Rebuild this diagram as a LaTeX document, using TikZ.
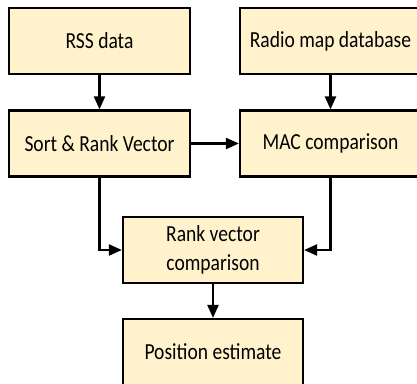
\documentclass[tikz,border=0pt]{standalone}
\usepackage{fontspec}
\setmainfont{Carlito}[FakeStretch=0.85]
\usetikzlibrary{arrows.meta}
\definecolor{boxfill}{HTML}{FFF2CC}
\tikzset{
  stage/.style={draw=black, line width=2.2pt, fill=boxfill, minimum width=181pt,
    minimum height=66pt, inner sep=2pt, align=center,
    font=\fontsize{23}{29}\selectfont},
  flow/.style={line width=2.2pt, -{Triangle[length=13pt,width=11pt]}}
}
\begin{document}
\begin{tikzpicture}[x=1pt,y=-1pt]
  \useasboundingbox (0,0) rectangle (417,383);
  \node[stage] (rss)   at (99.5,41)    {RSS data};
  \node[stage] (radio) at (330.5,41)   {Radio map database};
  \node[stage] (sort)  at (99.5,143.5) {Sort \& Rank Vector};
  \node[stage] (mac)   at (330.5,143.5){MAC comparison};
  \node[stage, minimum width=180pt] (rank) at (213,250) {Rank vector\\comparison};
  \node[stage, minimum width=180pt] (pos)  at (213,352) {Position estimate};

  \draw[flow] (rss) -- (sort);
  \draw[flow] (radio) -- (mac);
  \draw[flow] (sort) -- (mac);
  \draw[flow] (sort.south) |- (rank.west);
  \draw[flow] (mac.south) |- (rank.east);
  \draw[flow] (rank) -- (pos);
\end{tikzpicture}
\end{document}
